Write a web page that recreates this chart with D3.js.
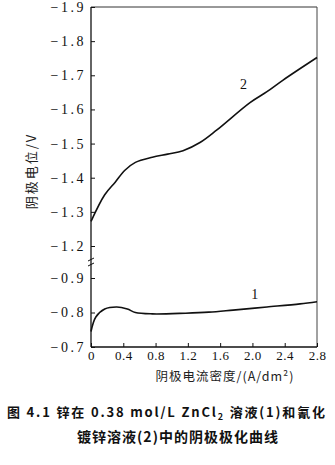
<!DOCTYPE html>
<html><head><meta charset="utf-8">
<script src="https://cdn.jsdelivr.net/npm/d3@7"></script>
<style>
html,body{margin:0;padding:0;background:#fff;}
svg{display:block;}
</style></head>
<body>
<script>
// ---- data ----
const xTicks = [0, 0.4, 0.8, 1.2, 1.6, 2.0, 2.4, 2.8];
const yTicksUpper = [-1.9, -1.8, -1.7, -1.6, -1.5, -1.4, -1.3, -1.2];
const yTicksLower = [-0.9, -0.8, -0.7];
// curve 2 (cyanide zinc bath)
const curve2X = [0, 0.17, 0.30, 0.42, 0.55, 0.76, 0.95, 1.14, 1.35, 1.56, 1.97, 2.18, 2.38, 2.8];
const curve2Y = [-1.272, -1.35, -1.387, -1.422, -1.445, -1.46, -1.469, -1.479, -1.503, -1.54, -1.62, -1.652, -1.686, -1.752];
// curve 1 (0.38 mol/L ZnCl2)
const curve1X = [0, 0.06, 0.17, 0.32, 0.45, 0.55, 0.76, 1.17, 1.46, 1.76, 2.18, 2.59, 2.8];
const curve1Y = [-0.745, -0.787, -0.81, -0.816, -0.81, -0.80, -0.796, -0.798, -0.801, -0.807, -0.816, -0.825, -0.831];
const yLabel = "阴极电位/V";
const xLabel = "阴极电流密度/(A/dm²)";
const caption1a = "图 4.1   锌在 0.38 mol/L ZnCl";
const caption1b = "2";
const caption1c = " 溶液(1)和氰化";
const caption2 = "镀锌溶液(2)中的阴极极化曲线";

// ---- layout ----
const W = 335, H = 465;
const mLeft = 91, mRight = 317, mTop = 7, mBottom = 347;
const svg = d3.select("body").append("svg").attr("width", W).attr("height", H);

const x = d3.scaleLinear().domain([0, 2.8]).range([mLeft, mRight]);
const yUp = d3.scaleLinear().domain([-1.9, -1.2]).range([mTop, 246]);
const yLow = d3.scaleLinear().domain([-0.9, -0.7]).range([278, mBottom]);

const tickFont = "Liberation Serif, Times New Roman, serif";
const fmtY = d => "−" + Math.abs(d).toFixed(1);

// frame top & right
svg.append("line").attr("x1", mLeft).attr("x2", mRight).attr("y1", mTop).attr("y2", mTop)
  .attr("stroke", "#333").attr("stroke-width", 1);
svg.append("line").attr("x1", mRight).attr("x2", mRight).attr("y1", mTop).attr("y2", mBottom)
  .attr("stroke", "#444").attr("stroke-width", 1);

function styleAxis(g, size) {
  g.select(".domain").remove();
  g.selectAll(".tick line").attr("stroke", "#111").attr("stroke-width", 1);
  g.selectAll(".tick text").attr("fill", "#111").style("font-family", tickFont)
    .style("font-size", size);
}

const gUp = svg.append("g").attr("transform", `translate(${mLeft},0)`)
  .call(d3.axisLeft(yUp).tickValues(yTicksUpper).tickFormat(fmtY).tickSizeInner(-4).tickSizeOuter(0).tickPadding(5));
styleAxis(gUp, "14px");
gUp.selectAll(".tick text").style("letter-spacing", "2.5px");

const gLow = svg.append("g").attr("transform", `translate(${mLeft},0)`)
  .call(d3.axisLeft(yLow).tickValues(yTicksLower).tickFormat(fmtY).tickSizeInner(-4).tickSizeOuter(0).tickPadding(5));
styleAxis(gLow, "14px");
gLow.selectAll(".tick text").style("letter-spacing", "2.5px");

const gx = svg.append("g").attr("transform", `translate(0,${mBottom})`)
  .call(d3.axisBottom(x).tickValues(xTicks).tickFormat(d => d === 0 ? "0" : d.toFixed(1)).tickSizeInner(-4).tickSizeOuter(0).tickPadding(4));
styleAxis(gx, "13px");
gx.selectAll(".tick text").style("letter-spacing", "0.5px");

// axis lines
svg.append("line").attr("x1", mLeft).attr("x2", mLeft).attr("y1", mTop).attr("y2", mBottom)
  .attr("stroke", "#111").attr("stroke-width", 1.3);
svg.append("line").attr("x1", mLeft).attr("x2", mRight).attr("y1", mBottom).attr("y2", mBottom)
  .attr("stroke", "#111").attr("stroke-width", 1.3);

// axis break marks
const by = (yUp(-1.2) + yLow(-0.9)) / 2;
[-2.5, 2.5].forEach(o => {
  svg.append("line").attr("x1", mLeft - 3).attr("x2", mLeft + 3)
    .attr("y1", by + o + 1.5).attr("y2", by + o - 1.5)
    .attr("stroke", "#111").attr("stroke-width", 1);
});

// curves
const line2 = d3.line().x(d => x(d[0])).y(d => yUp(d[1])).curve(d3.curveCatmullRom.alpha(0.5));
const line1 = d3.line().x(d => x(d[0])).y(d => yLow(d[1])).curve(d3.curveCatmullRom.alpha(0.5));
svg.append("path").datum(d3.zip(curve2X, curve2Y)).attr("d", line2)
  .attr("fill", "none").attr("stroke", "#111").attr("stroke-width", 1.6);
svg.append("path").datum(d3.zip(curve1X, curve1Y)).attr("d", line1)
  .attr("fill", "none").attr("stroke", "#111").attr("stroke-width", 1.6);

// curve labels
svg.append("text").attr("x", x(1.89)).attr("y", yUp(-1.66)).attr("text-anchor", "middle")
  .style("font-family", tickFont).style("font-size", "14px").attr("fill", "#111").text("2");
svg.append("text").attr("x", x(2.03)).attr("y", yLow(-0.84)).attr("text-anchor", "middle")
  .style("font-family", tickFont).style("font-size", "14px").attr("fill", "#111").text("1");

// axis titles
svg.append("text").attr("transform", `translate(36,171) rotate(-90)`).attr("text-anchor", "middle")
  .style("font-family", "Noto Sans CJK SC, sans-serif").style("font-size", "13px").style("letter-spacing", "2px")
  .attr("fill", "#222").text(yLabel);
svg.append("text").attr("x", 225).attr("y", 381).attr("text-anchor", "middle")
  .style("font-family", "Noto Sans CJK SC, sans-serif").style("font-size", "12.5px").style("letter-spacing", "1px")
  .attr("fill", "#222").text(xLabel);

// caption
const c1 = svg.append("text").attr("x", 7).attr("y", 417).attr("textLength", 318).attr("lengthAdjust", "spacing")
  .style("font-family", "Noto Sans CJK SC, sans-serif").style("font-size", "13px").style("font-weight", "bold")
  .attr("fill", "#111");
c1.append("tspan").text(caption1a);
c1.append("tspan").attr("dy", 3).style("font-size", "9px").text(caption1b);
c1.append("tspan").attr("dy", -3).text(caption1c);
svg.append("text").attr("x", 178).attr("y", 442).attr("text-anchor", "middle")
  .style("font-family", "Noto Sans CJK SC, sans-serif").style("font-size", "14px").style("font-weight", "bold")
  .style("letter-spacing", "1px").attr("fill", "#111").text(caption2);
</script>
</body></html>
